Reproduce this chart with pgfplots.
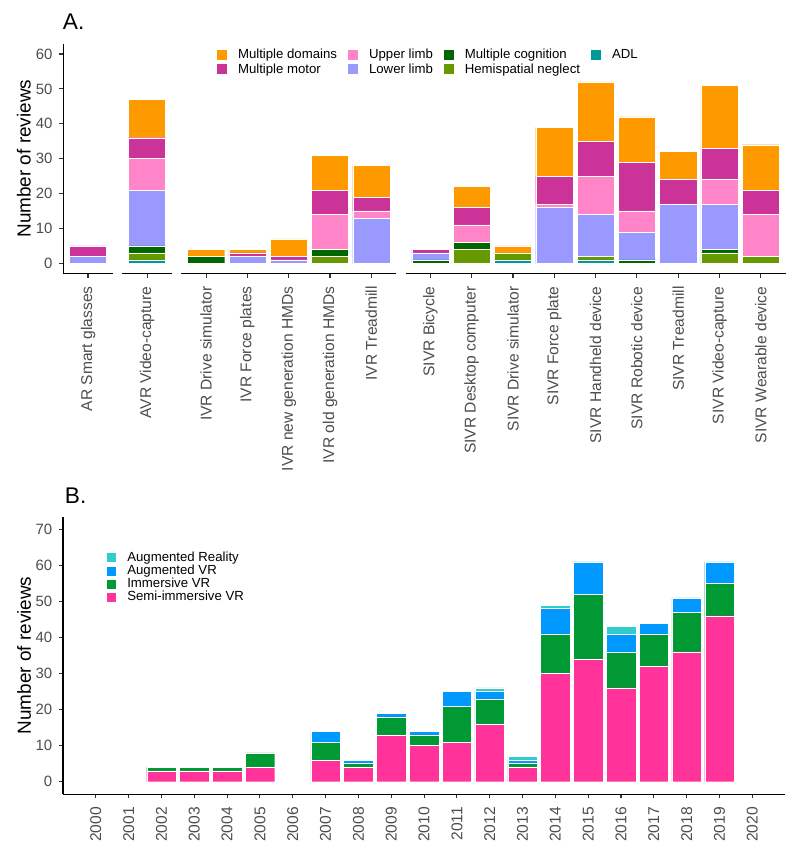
\documentclass[border=0pt]{standalone}
\usepackage{fontspec}
\setmainfont{Liberation Sans}
\usepackage{pgfplots}
\usepackage{pgfplotstable}
\pgfplotsset{compat=1.18}

\definecolor{cDom}{HTML}{FF9900}
\definecolor{cMot}{HTML}{CC3399}
\definecolor{cUp}{HTML}{FF85C8}
\definecolor{cLow}{HTML}{9999FF}
\definecolor{cCog}{HTML}{006600}
\definecolor{cHemi}{HTML}{669900}
\definecolor{cADL}{HTML}{009999}
\definecolor{cAR}{HTML}{33CCCC}
\definecolor{cAVR}{HTML}{0099FF}
\definecolor{cIVR}{HTML}{009933}
\definecolor{cSIVR}{HTML}{FF3399}
\definecolor{tickgrey}{HTML}{4D4D4D}

\pgfplotstableread{
x     adl hemi cog low up mot dom
0     0   0    0   2   0  3   0
1.43  1   2    2   16  9  6   11
2.86  0   0    2   0   0  0   2
3.86  0   0    0   2   0  1   1
4.86  0   0    0   1   0  1   5
5.86  0   2    2   0   10 7   10
6.86  0   0    0   13  2  4   9
8.29  0   0    1   2   0  1   0
9.29  0   4    2   0   5  5   6
10.29 1   2    0   0   0  0   2
11.29 0   0    0   16  1  8   14
12.29 1   1    0   12  11 10  17
13.29 0   0    1   8   6  14  13
14.29 0   0    0   17  0  7   8
15.29 0   3    1   13  7  9   18
16.29 0   2    0   0   12 7   13
}\tabA

\pgfplotstableread{
year semi imm avr ar
2002 3  1  0 0
2003 3  1  0 0
2004 3  1  0 0
2005 4  4  0 0
2007 6  5  3 0
2008 4  1  1 0
2009 13 5  1 0
2010 10 3  1 0
2011 11 10 4 0
2012 16 7  2 1
2013 4  1  1 1
2014 30 11 7 1
2015 34 18 9 0
2016 26 10 5 2
2017 32 9  3 0
2018 36 11 4 0
2019 46 9  6 0
}\tabB

\pgfplotsset{
  sq/.style={legend image code/.code={\fill[##1] (0pt,-3.75pt) rectangle (7.5pt,3.75pt);}},
  panel/.style={
    scale only axis,
    axis y line*=left, axis x line*=bottom,
    tick align=outside, major tick length=3pt,
    tick style={line width=0.8pt, black!80},
    axis line style={line width=1pt},
    y tick label style={font=\fontsize{11.2}{13}\selectfont, text=tickgrey},
    x tick label style={font=\fontsize{11.7}{13}\selectfont, text=tickgrey},
    xticklabel shift=3pt, yticklabel shift=1.5pt,
    /pgf/number format/assume math mode=true,
    ybar stacked, clip=false,
    legend cell align=left,
  },
}

\begin{document}
\begin{tikzpicture}
\useasboundingbox (0,0) rectangle (600pt,641.25pt);

\node[anchor=west, font=\fontsize{17}{20}\selectfont, inner sep=0pt] at (47pt,624.75pt) {A.};
\node[anchor=west, font=\fontsize{17}{20}\selectfont, inner sep=0pt] at (48.5pt,269.25pt) {B.};

% ---------------- Panel A ----------------
\begin{axis}[panel,
  at={(47.4pt,435.9pt)}, anchor=south west,
  width=541.8pt, height=172.7pt,
  xmin=-0.6, xmax=16.89, ymin=-3, ymax=63,
  bar width=0.9,
  x axis line style={draw=none},
  ytick={0,10,...,60},
  xtick={0,1.43,2.86,3.86,4.86,5.86,6.86,8.29,9.29,10.29,11.29,12.29,13.29,14.29,15.29,16.29},
  xticklabels={AR Smart glasses, AVR Video-capture, IVR Drive simulator, IVR Force plates, IVR new generation HMDs, IVR old generation HMDs, IVR Treadmill, SIVR Bicycle, SIVR Desktop computer, SIVR Drive simulator, SIVR Force plate, SIVR Handheld device, SIVR Robotic device, SIVR Treadmill, SIVR Video-capture, SIVR Wearable device},
  x tick label style={rotate=90, anchor=east},
  every axis y label/.style={at={(axis description cs:-0.0543,0.5)}, rotate=90, anchor=center, font=\fontsize{14.2}{16}\selectfont},
  ylabel={Number of reviews},
  legend columns=4,
  legend style={at={(0.213,0.988)}, anchor=north west, draw=none, fill=none, inner sep=0pt,
    font=\fontsize{9.9}{11}\selectfont, row sep=-2pt,
    /tikz/every odd column/.append style={column sep=6pt},
    /tikz/every even column/.append style={column sep=6.5pt}},
]
\addlegendimage{sq, fill=cDom, draw=none}\addlegendentry{Multiple domains}
\addlegendimage{sq, fill=cUp, draw=none}\addlegendentry{Upper limb}
\addlegendimage{sq, fill=cCog, draw=none}\addlegendentry{Multiple cognition}
\addlegendimage{sq, fill=cADL, draw=none}\addlegendentry{ADL}
\addlegendimage{sq, fill=cMot, draw=none}\addlegendentry{Multiple motor}
\addlegendimage{sq, fill=cLow, draw=none}\addlegendentry{Lower limb}
\addlegendimage{sq, fill=cHemi, draw=none}\addlegendentry{Hemispatial neglect}

\addplot[fill=cADL, draw=white, line width=0.3pt] table[x=x, y=adl] {\tabA};
\addplot[fill=cHemi, draw=white, line width=0.3pt] table[x=x, y=hemi] {\tabA};
\addplot[fill=cCog, draw=white, line width=0.3pt] table[x=x, y=cog] {\tabA};
\addplot[fill=cLow, draw=white, line width=0.3pt] table[x=x, y=low] {\tabA};
\addplot[fill=cUp, draw=white, line width=0.3pt] table[x=x, y=up] {\tabA};
\addplot[fill=cMot, draw=white, line width=0.3pt] table[x=x, y=mot] {\tabA};
\addplot[fill=cDom, draw=white, line width=0.3pt] table[x=x, y=dom] {\tabA};

\draw[line width=1pt] (axis cs:-0.6,-3) -- (axis cs:0.6,-3);
\draw[line width=1pt] (axis cs:0.83,-3) -- (axis cs:2.03,-3);
\draw[line width=1pt] (axis cs:2.26,-3) -- (axis cs:7.46,-3);
\draw[line width=1pt] (axis cs:7.69,-3) -- (axis cs:16.89,-3);
\end{axis}

% ---------------- Panel B ----------------
\begin{axis}[panel,
  at={(47.25pt,45.5pt)}, anchor=south west,
  width=541.6pt, height=208.2pt,
  xmin=1999, xmax=2021, ymin=-3.5, ymax=73.5,
  bar width=0.9,
  ytick={0,10,...,70},
  xtick={2000,2001,...,2020},
  x tick label style={rotate=90, anchor=east, /pgf/number format/1000 sep={}},
  every axis y label/.style={at={(axis description cs:-0.054,0.5)}, rotate=90, anchor=center, font=\fontsize{14.2}{16}\selectfont},
  ylabel={Number of reviews},
  reverse legend,
  legend style={at={(0.0595,0.884)}, anchor=north west, draw=none, fill=none, inner sep=0pt,
    font=\fontsize{9.9}{11}\selectfont, row sep=-2.8pt,
    /tikz/every odd column/.append style={column sep=6pt}},
]
\addplot[sq, fill=cSIVR, draw=white, line width=0.3pt] table[x=year, y=semi] {\tabB};
\addlegendentry{Semi-immersive VR}
\addplot[sq, fill=cIVR, draw=white, line width=0.3pt] table[x=year, y=imm] {\tabB};
\addlegendentry{Immersive VR}
\addplot[sq, fill=cAVR, draw=white, line width=0.3pt] table[x=year, y=avr] {\tabB};
\addlegendentry{Augmented VR}
\addplot[sq, fill=cAR, draw=white, line width=0.3pt] table[x=year, y=ar] {\tabB};
\addlegendentry{Augmented Reality}
\end{axis}
\end{tikzpicture}
\end{document}
